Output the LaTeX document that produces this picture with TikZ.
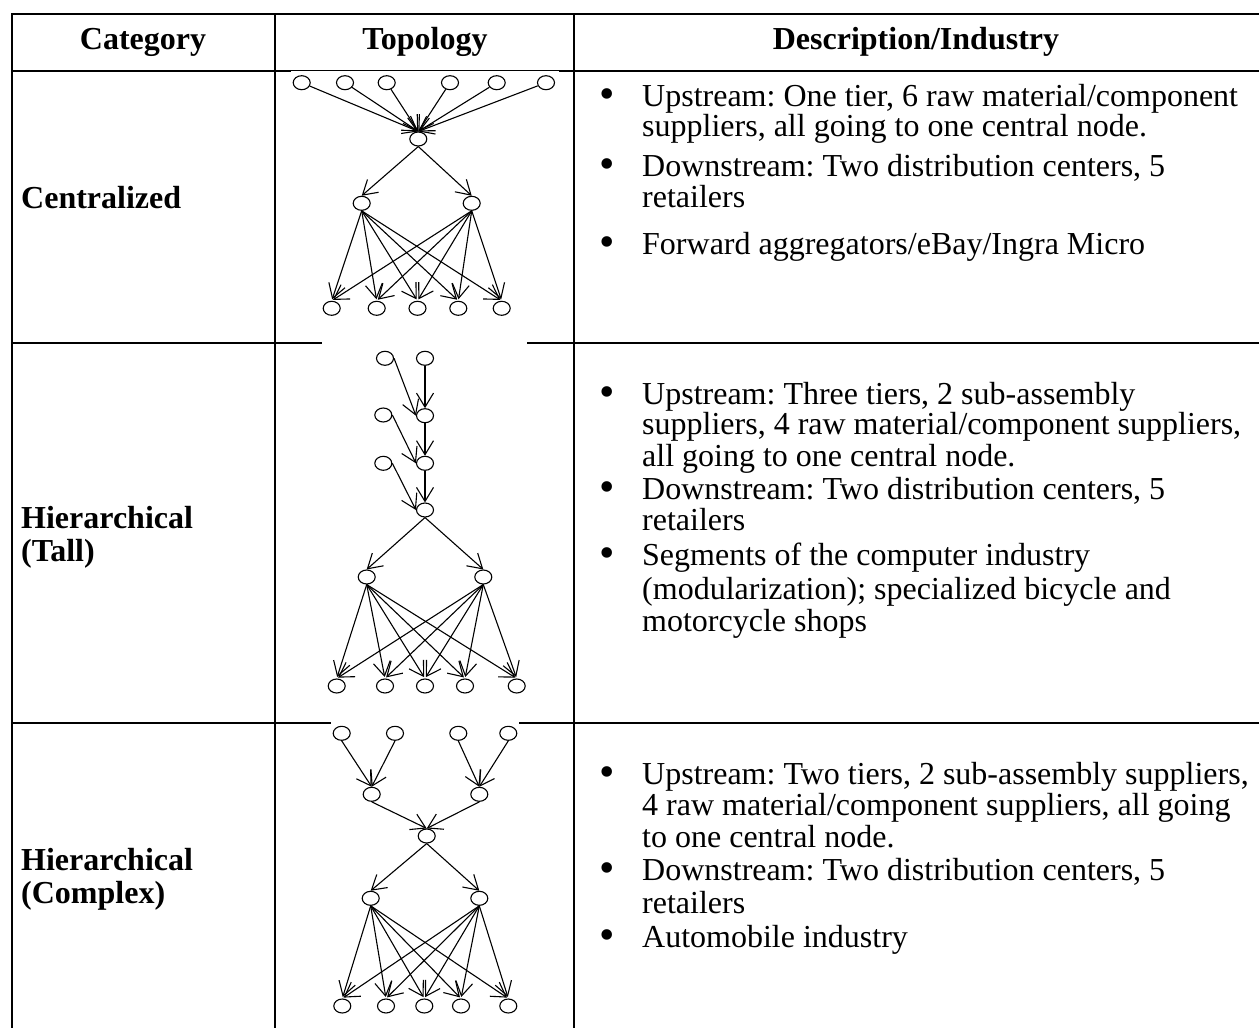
\documentclass[tikz,border=0pt]{standalone}
\usepackage{fontspec}
\setmainfont{Liberation Serif}
\usetikzlibrary{arrows.meta,shapes.geometric}
\frenchspacing

\tikzset{
  rule/.style={line width=1.6pt, line cap=rect},
  thinrule/.style={line width=0.7pt},
  head/.style={font=\fontsize{32}{32}\selectfont\bfseries, anchor=base},
  cat/.style={font=\fontsize{32}{32}\selectfont\bfseries, anchor=base west, inner sep=0pt},
  txt/.style={font=\fontsize{32}{32}\selectfont, anchor=base west, inner sep=0pt},
  bul/.style={font=\fontsize{44}{44}\selectfont, anchor=base, inner sep=0pt},
  nd/.style={draw, ellipse, minimum width=17pt, minimum height=14pt, inner sep=0pt, line width=1.1pt},
  arr/.style={-{Straight Barb[length=14pt,width=17pt,line width=1.1pt]}, line width=1.1pt},
}

\begin{document}
\begin{tikzpicture}[x=1pt, y=-1pt]
\useasboundingbox (0,0) rectangle (1259,1028);

% ---------- table rules ----------
\draw[rule] (12,14) -- (1259,14);
\draw[rule] (12,14) -- (12,1028);
\draw[rule] (275,14) -- (275,1028);
\draw[rule] (574,14) -- (574,1028);
% header bottom, partly overlaid by the first graph's frame
\draw[rule] (12,71) -- (290,71);
\draw[thinrule] (290,70.6) -- (560,70.6);
\draw[rule] (560,71) -- (1259,71);
% row separators, interrupted by the graph panels
\draw[rule] (12,343) -- (321,343);
\draw[rule] (528,343) -- (1259,343);
\draw[rule] (12,723) -- (330,723);
\draw[rule] (520,723) -- (1259,723);

% ---------- header ----------
\node[head] (hcat) at (143,49) {Category};
\node[head] (htop) at (425,49) {Topology};
\node[head] (hdesc) at (916,49) {Description/Industry};

% ---------- category column ----------
\node[cat] (cat1) at (21,208) {Centralized};
\node[cat] (cat2a) at (21,528) {Hierarchical};
\node[cat] (cat2b) at (21,561) {(Tall)};
\node[cat] (cat3a) at (21,870) {Hierarchical};
\node[cat] (cat3b) at (21,903) {(Complex)};

% ---------- descriptions ----------
% row 1
\node[bul] (b11) at (607,108) {•};
\node[txt] (d11) at (642,106) {Upstream: One tier, 6 raw material/component};
\node[txt] (d12) at (642,136) {suppliers, all going to one central node.};
\node[bul] (b12) at (607,178) {•};
\node[txt] (d13) at (642,176) {Downstream: Two distribution centers, 5};
\node[txt] (d14) at (642,207) {retailers};
\node[bul] (b13) at (607,256) {•};
\node[txt] (d15) at (642,254) {Forward aggregators/eBay/Ingra Micro};
% row 2
\node[bul] (b21) at (607,406) {•};
\node[txt] (d21) at (642,404) {Upstream: Three tiers, 2 sub-assembly};
\node[txt] (d22) at (642,434) {suppliers, 4 raw material/component suppliers,};
\node[txt] (d23) at (642,466) {all going to one central node.};
\node[bul] (b22) at (607,501) {•};
\node[txt] (d24) at (642,499) {Downstream: Two distribution centers, 5};
\node[txt] (d25) at (642,530) {retailers};
\node[bul] (b23) at (607,567) {•};
\node[txt] (d26) at (642,565) {Segments of the computer industry};
\node[txt] (d27) at (642,599) {(modularization); specialized bicycle and};
\node[txt] (d28) at (642,631) {motorcycle shops};
% row 3
\node[bul] (b31) at (607,786) {•};
\node[txt] (d31) at (642,784) {Upstream: Two tiers, 2 sub-assembly suppliers,};
\node[txt] (d32) at (642,815) {4 raw material/component suppliers, all going};
\node[txt] (d33) at (642,847) {to one central node.};
\node[bul] (b32) at (607,882) {•};
\node[txt] (d34) at (642,880) {Downstream: Two distribution centers, 5};
\node[txt] (d35) at (642,913) {retailers};
\node[bul] (b33) at (607,949) {•};
\node[txt] (d36) at (642,947) {Automobile industry};

% ---------- graph 1: centralized ----------
\foreach \n/\x in {1/301.7,2/345,3/386.7,4/450,5/496.7,6/546}
  \node[nd] (a\n) at (\x,82.7) {};
\node[nd] (ac) at (418.3,139) {};
\node[nd] (am1) at (361.7,203.3) {};
\node[nd] (am2) at (471.7,203.3) {};
\foreach \n/\x in {1/331.7,2/376.7,3/417.5,4/458.3,5/501.7}
  \node[nd] (ab\n) at (\x,308.3) {};
\foreach \n in {1,...,6} \draw[arr] (a\n) -- (ac.north);
\draw[arr] (ac.south) -- (am1.north);
\draw[arr] (ac.south) -- (am2.north);
\foreach \m in {1,2} \foreach \n in {1,...,5}
  \draw[arr, shorten >=1.5pt] (am\m.south) -- (ab\n.north);

% ---------- graph 2: hierarchical (tall) ----------
\node[nd] (tl1) at (385,358.3) {};
\node[nd] (tr1) at (425,358.3) {};
\node[nd] (tl2) at (383.3,415) {};
\node[nd] (tc1) at (425,415.7) {};
\node[nd] (tl3) at (383.3,463.3) {};
\node[nd] (tc2) at (425,463.3) {};
\node[nd] (tc) at (425,510) {};
\node[nd] (tm1) at (366.7,577) {};
\node[nd] (tm2) at (483.3,577) {};
\foreach \n/\x in {1/336.7,2/385,3/425,4/465,5/516.7}
  \node[nd] (tb\n) at (\x,686) {};
\draw[arr] (tr1) -- (tc1);
\draw[arr] (tl1.east) -- (tc1.west);
\draw[arr] (tc1) -- (tc2);
\draw[arr] (tl2.east) -- (tc2.west);
\draw[arr] (tc2) -- (tc);
\draw[arr] (tl3.east) -- (tc.west);
\draw[arr] (tc.south) -- (tm1.north);
\draw[arr] (tc.south) -- (tm2.north);
\foreach \m in {1,2} \foreach \n in {1,...,5}
  \draw[arr, shorten >=1.5pt] (tm\m.south) -- (tb\n.north);

% ---------- graph 3: hierarchical (complex) ----------
\foreach \n/\x in {1/341.7,2/395,3/458.3,4/508.3}
  \node[nd] (ct\n) at (\x,733.3) {};
\node[nd] (cs1) at (371.7,794.3) {};
\node[nd] (cs2) at (479.3,794.3) {};
\node[nd] (cc) at (426.7,836) {};
\node[nd] (cm1) at (370.7,898.3) {};
\node[nd] (cm2) at (479.3,898.3) {};
\foreach \n/\x in {1/342.3,2/386,3/424.3,4/461,5/508.3}
  \node[nd] (cb\n) at (\x,1006) {};
\draw[arr] (ct1.south) -- (cs1.north);
\draw[arr] (ct2.south) -- (cs1.north);
\draw[arr] (ct3.south) -- (cs2.north);
\draw[arr] (ct4.south) -- (cs2.north);
\draw[arr] (cs1.south) -- (cc.north);
\draw[arr] (cs2.south) -- (cc.north);
\draw[arr] (cc.south) -- (cm1.north);
\draw[arr] (cc.south) -- (cm2.north);
\foreach \m in {1,2} \foreach \n in {1,...,5}
  \draw[arr, shorten >=1.5pt] (cm\m.south) -- (cb\n.north);
\end{tikzpicture}
\end{document}
